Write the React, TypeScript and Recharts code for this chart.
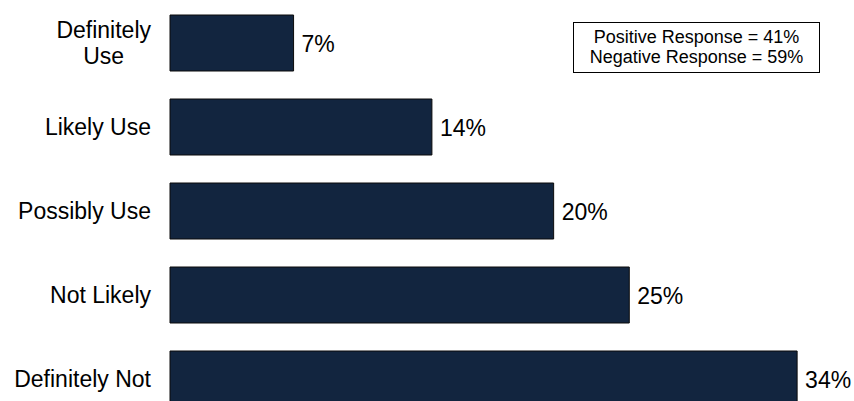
import { BarChart, Bar, XAxis, YAxis, LabelList } from 'recharts';

const FONT = '"Liberation Sans", Arial, sans-serif';
const BAR_COLOR = '#12253f';

const categories = ['Definitely\nUse', 'Likely Use', 'Possibly Use', 'Not Likely', 'Definitely Not'];
const values = [6.7, 14.2, 20.8, 24.9, 34.0];
const valueLabels = ['7%', '14%', '20%', '25%', '34%'];
const summaryLines = ['Positive Response = 41%', 'Negative Response = 59%'];

const data = categories.map((name, i) => ({ name, value: values[i], label: valueLabels[i] }));

let ctx: CanvasRenderingContext2D | null = null;
function textWidth(s: string, size: number) {
  if (!ctx) ctx = document.createElement('canvas').getContext('2d');
  if (!ctx) return s.length * size * 0.5;
  ctx.font = `${size}px ${FONT}`;
  return ctx.measureText(s).width;
}

function CategoryTick(props: any) {
  const { x, y, payload } = props;
  const lines = String(payload.value).split('\n');
  if (lines.length === 1) {
    return (
      <text x={x} y={y + 8} textAnchor="end" fontSize={23} fontFamily={FONT} fill="#000">
        {lines[0]}
      </text>
    );
  }
  const w = Math.max(...lines.map((l) => textWidth(l, 23)));
  const cx = x - w / 2;
  return (
    <text x={cx} y={y - 5} textAnchor="middle" fontSize={23} fontFamily={FONT} fill="#000">
      {lines.map((l, i) => (
        <tspan key={i} x={cx} dy={i === 0 ? 0 : 26}>
          {l}
        </tspan>
      ))}
    </text>
  );
}

function ValueLabel(props: any) {
  const { x, y, width, height, value } = props;
  return (
    <text x={x + width + 8} y={y + height / 2 + 9} fontSize={23} fontFamily={FONT} fill="#000">
      {value}
    </text>
  );
}

export default function App() {
  return (
    <div style={{ position: 'absolute', left: 0, top: 0, width: 854, height: 401, overflow: 'hidden', background: '#fff' }}>
      <BarChart
        width={854}
        height={422}
        data={data}
        layout="vertical"
        margin={{ top: 1, right: 20, bottom: 1, left: 0 }}
      >
        <XAxis type="number" domain={[0, 36]} hide />
        <YAxis
          type="category"
          dataKey="name"
          width={170}
          axisLine={false}
          tickLine={false}
          tickSize={0}
          tickMargin={19}
          interval={0}
          tick={<CategoryTick />}
        />
        <Bar dataKey="value" fill={BAR_COLOR} stroke="#0b0b0b" strokeWidth={1} barSize={56} isAnimationActive={false}>
          <LabelList dataKey="label" content={<ValueLabel />} />
        </Bar>
      </BarChart>
      <div
        style={{
          position: 'absolute',
          left: 573,
          top: 22,
          width: 247,
          height: 51,
          border: '1px solid #000',
          boxSizing: 'border-box',
          paddingTop: 4,
          textAlign: 'center',
          fontSize: 18,
          lineHeight: '20px',
          fontFamily: FONT,
          color: '#000',
          background: '#fff',
        }}
      >
        {summaryLines.map((l) => (
          <div key={l}>{l}</div>
        ))}
      </div>
    </div>
  );
}
